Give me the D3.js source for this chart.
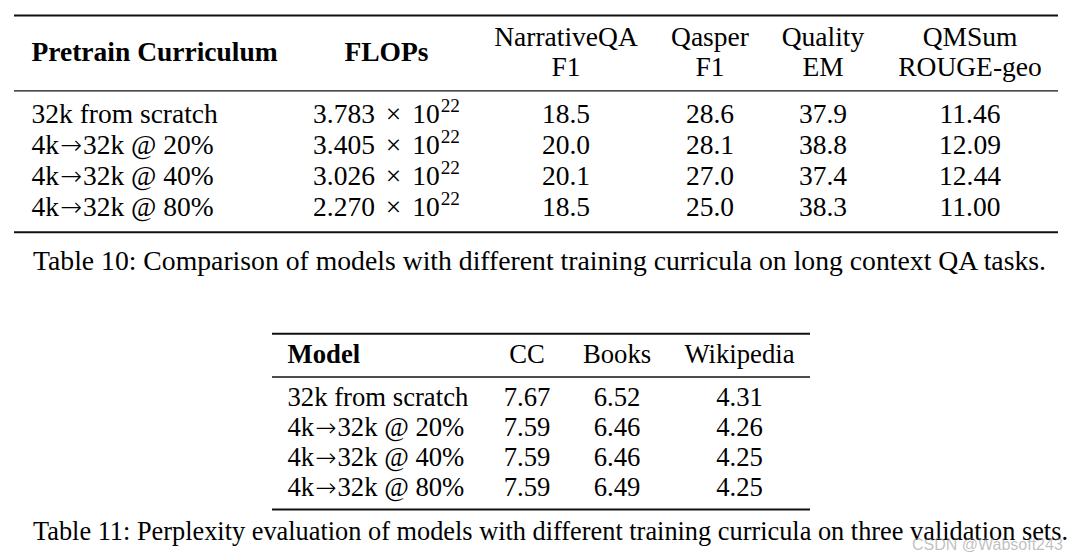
<!DOCTYPE html>
<html>
<head>
<meta charset="utf-8">
<script src="https://cdn.jsdelivr.net/npm/d3@7"></script>
<style>
  html, body { margin: 0; padding: 0; background: #fff; }
  svg { display: block; }
  text { font-family: "Liberation Serif", "Times New Roman", serif; fill: #000; }
</style>
</head>
<body>
<svg id="chart" width="1082" height="558"></svg>
<script>
// ---------- Table 10 data ----------
const t10Curricula = ["32k from scratch", "4k\u219232k @ 20%", "4k\u219232k @ 40%", "4k\u219232k @ 80%"];
const t10FlopsMantissa = ["3.783", "3.405", "3.026", "2.270"];
const t10FlopsExponent = ["22", "22", "22", "22"];
const t10NarrativeQA = ["18.5", "20.0", "20.1", "18.5"];
const t10Qasper = ["28.6", "28.1", "27.0", "25.0"];
const t10Quality = ["37.9", "38.8", "37.4", "38.3"];
const t10QMSum = ["11.46", "12.09", "12.44", "11.00"];
const t10HeaderLine1 = ["NarrativeQA", "Qasper", "Quality", "QMSum"];
const t10HeaderLine2 = ["F1", "F1", "EM", "ROUGE-geo"];
const t10BoldHeaders = ["Pretrain Curriculum", "FLOPs"];
const t10Caption = "Table 10: Comparison of models with different training curricula on long context QA tasks.";

// ---------- Table 11 data ----------
const t11Models = ["32k from scratch", "4k\u219232k @ 20%", "4k\u219232k @ 40%", "4k\u219232k @ 80%"];
const t11CC = ["7.67", "7.59", "7.59", "7.59"];
const t11Books = ["6.52", "6.46", "6.46", "6.49"];
const t11Wikipedia = ["4.31", "4.26", "4.25", "4.25"];
const t11Headers = ["Model", "CC", "Books", "Wikipedia"];
const t11Caption = "Table 11: Perplexity evaluation of models with different training curricula on three validation sets.";

const watermark = "CSDN @Wabsoft243";

// ---------- drawing ----------
const svg = d3.select("#chart");
svg.append("rect").attr("width", 1082).attr("height", 558).attr("fill", "#fff");
const FS = 27.5;
const FS11 = 26.7;

function rule(x1, x2, y, w) {
  svg.append("line").attr("x1", x1).attr("x2", x2).attr("y1", y).attr("y2", y)
    .attr("stroke", "#111").attr("stroke-width", w);
}

// label with a wide (1em) math-style arrow
function label(x, y, fs, s, arrowWidth) {
  const t = svg.append("text").attr("x", x).attr("y", y).attr("font-size", fs);
  const parts = s.split("\u2192");
  if (parts.length === 1) { t.text(s); return t; }
  t.append("tspan").text(parts[0]);
  t.append("tspan").attr("dx", 1)
    .style("font-family", "'DejaVu Sans', sans-serif").attr("font-size", fs * 0.95)
    .attr("font-weight", 300).text("\u2192");
  t.append("tspan").attr("dx", 1).text(parts[1]);
  return t;
}

// ===== Table 10 =====
const t10Cols = ["label", "flops", "nqa", "qasper", "quality", "qmsum"];
const t10X = d3.scaleOrdinal().domain(t10Cols).range([31.5, 386.5, 566, 710, 823, 970]);
const t10Y = d3.scalePoint().domain(d3.range(t10Curricula.length)).range([123.3, 216]);

rule(14, 1058, 15.5, 2);
rule(14, 1058, 90.8, 1.3);
rule(14, 1058, 232.3, 2);

svg.append("text").attr("x", t10X("label")).attr("y", 61).attr("font-size", FS)
  .attr("font-weight", "bold").text(t10BoldHeaders[0]);
svg.append("text").attr("x", t10X("flops")).attr("y", 61).attr("font-size", FS)
  .attr("font-weight", "bold").attr("text-anchor", "middle").text(t10BoldHeaders[1]);

const metricCols = ["nqa", "qasper", "quality", "qmsum"];
metricCols.forEach((c, i) => {
  svg.append("text").attr("x", t10X(c)).attr("y", 45.5).attr("font-size", FS)
    .attr("text-anchor", "middle").text(t10HeaderLine1[i]);
  svg.append("text").attr("x", t10X(c)).attr("y", 76).attr("font-size", FS)
    .attr("text-anchor", "middle").text(t10HeaderLine2[i]);
});

const t10Series = { nqa: t10NarrativeQA, qasper: t10Qasper, quality: t10Quality, qmsum: t10QMSum };
t10Curricula.forEach((lab, r) => {
  const y = t10Y(r);
  label(t10X("label"), y, FS, lab);
  const ft = svg.append("text").attr("x", t10X("flops")).attr("y", y).attr("font-size", FS)
    .attr("text-anchor", "middle");
  ft.append("tspan").text(t10FlopsMantissa[r]);
  ft.append("tspan").attr("dx", 4).text(" \u00D7 ");
  ft.append("tspan").attr("dx", 4).text("10");
  ft.append("tspan").attr("font-size", FS * 0.7).attr("dy", -11).attr("dx", 1).text(t10FlopsExponent[r]);
  metricCols.forEach(c => {
    svg.append("text").attr("x", t10X(c)).attr("y", y).attr("font-size", FS)
      .attr("text-anchor", "middle").text(t10Series[c][r]);
  });
});

svg.append("text").attr("x", 33).attr("y", 270).attr("font-size", FS)
  .attr("textLength", 1013).attr("lengthAdjust", "spacingAndGlyphs").text(t10Caption);

// ===== Table 11 =====
const t11Cols = ["model", "cc", "books", "wiki"];
const t11X = d3.scaleOrdinal().domain(t11Cols).range([287.5, 527, 617, 739.5]);
const t11Y = d3.scalePoint().domain(d3.range(t11Models.length)).range([406, 495.5]);

rule(272, 810, 333.8, 2);
rule(272, 810, 377, 1.3);
rule(272, 810, 509.5, 2);

svg.append("text").attr("x", t11X("model")).attr("y", 363).attr("font-size", FS11)
  .attr("font-weight", "bold").text(t11Headers[0]);
["cc", "books", "wiki"].forEach((c, i) => {
  svg.append("text").attr("x", t11X(c)).attr("y", 363).attr("font-size", FS11)
    .attr("text-anchor", "middle").text(t11Headers[i + 1]);
});
const t11Series = { cc: t11CC, books: t11Books, wiki: t11Wikipedia };
t11Models.forEach((lab, r) => {
  const y = t11Y(r);
  label(t11X("model"), y, FS11, lab);
  ["cc", "books", "wiki"].forEach(c => {
    svg.append("text").attr("x", t11X(c)).attr("y", y).attr("font-size", FS11)
      .attr("text-anchor", "middle").text(t11Series[c][r]);
  });
});

svg.append("text").attr("x", 33).attr("y", 540).attr("font-size", FS)
  .attr("textLength", 1035).attr("lengthAdjust", "spacingAndGlyphs").text(t11Caption);

svg.append("text").attr("x", 912).attr("y", 550).attr("font-size", 16)
  .style("font-family", "'Liberation Sans', Arial, sans-serif")
  .style("fill", "rgba(130,130,130,0.5)").text(watermark);
</script>
</body>
</html>
